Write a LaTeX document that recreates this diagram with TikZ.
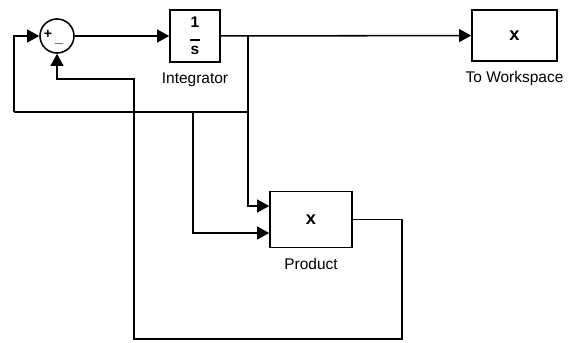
\documentclass[tikz,border=0pt]{standalone}
\usepackage{fontspec}
\setmainfont{Liberation Sans}
\usepackage{tikz}
\usetikzlibrary{positioning,arrows.meta,calc}

\begin{document}
\begin{tikzpicture}[
    x=0.025cm, y=0.025cm,
    every node/.style={font=\fontsize{11}{13}\selectfont},
    box/.style={draw, line width=1.1pt, minimum width=2.05cm, minimum height=1.4cm, align=center, inner sep=0pt},
    sumnode/.style={draw, circle, line width=1.1pt, minimum size=0.85cm, inner sep=0pt},
    lbl/.style={label distance=1.2mm},
    sig/.style={font=\fontsize{10}{10}\selectfont\bfseries, inner sep=0pt},
    boxtext/.style={font=\fontsize{13}{13}\selectfont\bfseries},
    arr/.style={-{Triangle[length=3mm, width=3.2mm]}, line width=1.1pt},
    wire/.style={line width=1.1pt}
]
    \useasboundingbox (0,0) rectangle (577,342);

    \node[sumnode] (sum) at (57,306) {};
    \node[sig] at ($(sum.center)+(-9,2)$) {+};
    \node[sig] at ($(sum.center)+(2,-8)$) {$-$};
    \node[box, minimum width=1.25cm, minimum height=1.3cm,
          label={[lbl]below:Integrator}] (integ) at (195,306)
          {\bfseries 1\\[-4pt]\rule{7pt}{0.9pt}\\[-3pt]\bfseries s};
    \node[box, boxtext, minimum width=2.125cm, minimum height=1.275cm,
          label={[lbl, font=\fontsize{11}{13}\selectfont]below:To Workspace}] (ws) at (514.5,306.5) {x};
    \node[box, boxtext,
          label={[lbl, font=\fontsize{11}{13}\selectfont]below:Product}] (prod) at (311,122.5) {x};

    % branch points
    \coordinate (br) at (248,306);
    \coordinate (fb) at (248,230);
    \coordinate (fbj) at (193,230);
    \coordinate (fbl) at (14,230);
    \coordinate (pin1) at ($(prod.west)+(0,13.5)$);
    \coordinate (pin2) at ($(prod.west)+(0,-13.5)$);
    \coordinate (o1) at (402,3);
    \coordinate (o2) at (134,263);

    \draw[arr] (sum) -- (integ);
    \draw[arr] (integ) -- (ws);
    \draw[arr] (br) |- (pin1);
    \draw[wire] (fb) -- (fbl);
    \draw[arr] (fbl) |- (sum.west);
    \draw[arr] (fbj) |- (pin2);
    \draw[arr] (prod.east) -| (o1) -| (o2) -| (sum.south);
\end{tikzpicture}
\end{document}
